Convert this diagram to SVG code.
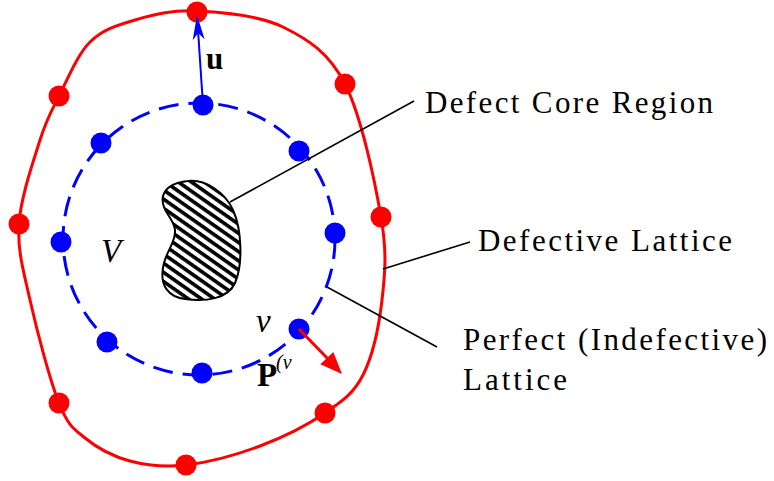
<svg xmlns="http://www.w3.org/2000/svg" width="774" height="481" viewBox="0 0 774 481">
<style>
  .lbl { font-family: "Liberation Serif", "Times New Roman", serif; font-size: 31px; fill: #000; }
  .sym { font-family: "Liberation Serif", "Times New Roman", serif; fill: #000; }
  .rdot { fill: #ff0000; }
  .bdot { fill: #0000ff; }
  .leader { stroke: #000; stroke-width: 1.6; fill: none; }
</style>
<defs>
  <pattern id="hatch" width="7.5" height="7.5" patternUnits="userSpaceOnUse" patternTransform="rotate(35)">
    <rect x="0" y="0" width="7.5" height="7.5" fill="#fff"/>
    <rect x="0" y="0" width="7.5" height="3.6" fill="#000"/>
  </pattern>
</defs>
<rect width="774" height="481" fill="#fff"/>

<g id="defective-lattice">
  <path d="M197,11 C221.7,12.2 258.3,14.8 283,27 C307.7,39.2 328.7,52.3 345,84 C361.3,115.7 374.8,181 381,217 C387.2,253 385,273.7 382,300 C379,326.3 372.5,356.2 363,375 C353.5,393.8 342.2,401.2 325,413 C307.8,424.8 283.2,437.3 260,446 C236.8,454.7 207.7,462.5 186,465 C164.3,467.5 146.8,465.5 130,461 C113.2,456.5 96.8,447.7 85,438 C73.2,428.3 68.2,426 59,403 C49.8,380 36.7,329.8 30,300 C23.3,270.2 17.3,250.7 19,224 C20.7,197.3 33.3,161.3 40,140 C46.7,118.7 50.7,112.3 59,96 C67.3,79.7 77.3,54.7 90,42 C102.7,29.3 117.2,25.2 135,20 C152.8,14.8 172.3,9.8 197,11 Z" fill="none" stroke="#ff0000" stroke-width="3"/>
  <circle class="rdot" cx="197" cy="12" r="10.5"/>
  <circle class="rdot" cx="345" cy="84" r="10.5"/>
  <circle class="rdot" cx="381" cy="217" r="10.5"/>
  <circle class="rdot" cx="325" cy="413" r="10.5"/>
  <circle class="rdot" cx="186" cy="465" r="10.5"/>
  <circle class="rdot" cx="59" cy="403" r="10.5"/>
  <circle class="rdot" cx="19" cy="224" r="10.5"/>
  <circle class="rdot" cx="59" cy="96" r="10.5"/>
</g>

<g id="perfect-lattice">
  <circle cx="199" cy="239" r="136" fill="none" stroke="#0000ff" stroke-width="3" stroke-dasharray="20 10"/>
  <circle class="bdot" cx="203" cy="105" r="10.5"/>
  <circle class="bdot" cx="299" cy="151" r="10.5"/>
  <circle class="bdot" cx="335" cy="233" r="10.5"/>
  <circle class="bdot" cx="299" cy="329" r="10.5"/>
  <circle class="bdot" cx="202" cy="373" r="10.5"/>
  <circle class="bdot" cx="107" cy="342" r="10.5"/>
  <circle class="bdot" cx="61" cy="242" r="10.5"/>
  <circle class="bdot" cx="101" cy="143" r="10.5"/>
</g>

<g id="defect-core">
  <path d="M188,181 C205,179 225,192 233,210 C242,230 243,265 235,283 C228,299 205,302 185,299 C168,297 160,285 163,268 C165,252 176,243 175,230 C174,218 160,210 163,196 C166,186 177,182 188,181 Z" fill="url(#hatch)" stroke="#000" stroke-width="2"/>
</g>

<g id="connectors">
  <line class="leader" x1="230" y1="202" x2="414" y2="101"/>
  <line class="leader" x1="383" y1="269" x2="470" y2="242"/>
  <line class="leader" x1="327" y1="287" x2="437" y2="347"/>
  <g id="arrow-u">
    <line x1="203" y1="105" x2="198.2" y2="33" stroke="#0000ff" stroke-width="2"/>
    <path d="M197,15 L204.7,39.5 L198.2,33 L192.7,40.3 Z" fill="#0000ff"/>
  </g>
  <g id="arrow-p">
    <line x1="299" y1="329" x2="328" y2="359" stroke="#ff0000" stroke-width="3"/>
    <path d="M342,374 L320.3,364.3 L333.3,351.9 Z" fill="#ff0000"/>
  </g>
</g>

<g id="symbols">
  <text class="sym" x="206" y="69" font-size="31" font-weight="bold">u</text>
  <text class="sym" x="101" y="262" font-size="33" font-style="italic">V</text>
  <text class="sym" x="256" y="332" font-size="33" font-style="italic">v</text>
  <text class="sym" x="257" y="386" font-size="33" font-weight="bold">P</text>
  <text class="sym" x="276" y="369" font-size="20" font-style="italic">(ν</text>
</g>

<g id="labels">
  <text class="lbl" x="425" y="113" textLength="288" lengthAdjust="spacing">Defect Core Region</text>
  <text class="lbl" x="478" y="251" textLength="254" lengthAdjust="spacing">Defective Lattice</text>
  <text class="lbl" x="463" y="350" textLength="304" lengthAdjust="spacing">Perfect (Indefective)</text>
  <text class="lbl" x="463" y="390" textLength="104" lengthAdjust="spacing">Lattice</text>
</g>
</svg>
